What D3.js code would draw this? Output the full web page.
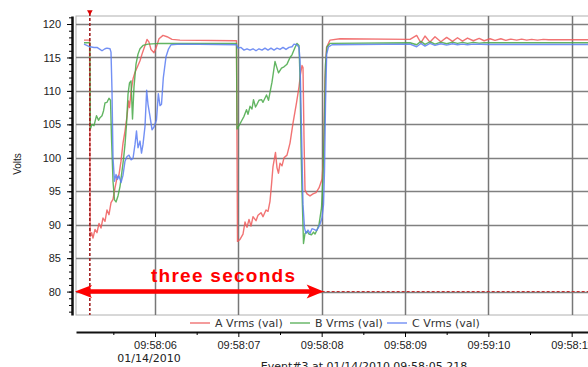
<!DOCTYPE html>
<html>
<head>
<meta charset="utf-8">
<script src="https://cdn.jsdelivr.net/npm/d3@7"></script>
<style>
	body { margin: 0; background: #fff; }
	svg { display: block; font-family: "DejaVu Sans", sans-serif; }
</style>
</head>
<body>
<div id="chart"></div>
<script>

var aTime = [5.148, 5.215, 5.222, 5.240, 5.256, 5.280, 5.304, 5.328, 5.352, 5.376, 5.400, 5.424, 5.448, 5.472, 5.496, 5.520, 5.544, 5.568, 5.592, 5.616, 5.640, 5.664, 5.682, 5.694, 5.712, 5.736, 5.760, 5.796, 5.820, 5.844, 5.880, 5.904, 5.928, 5.952, 5.988, 6.012, 6.048, 6.096, 6.144, 6.204, 6.300,
	6.978, 6.990, 7.020, 7.056, 7.080, 7.104, 7.128, 7.152, 7.176, 7.212, 7.236, 7.272, 7.296, 7.332, 7.356, 7.380, 7.398, 7.416, 7.446, 7.464, 7.482, 7.500, 7.524, 7.548, 7.584, 7.620, 7.656, 7.698, 7.728, 7.746, 7.764, 7.776, 7.788, 7.800, 7.824, 7.860, 7.896, 7.932, 7.968, 8.004, 8.022, 8.040, 8.058, 8.100, 8.220,
	9.060, 9.14, 9.19, 9.24, 9.30, 9.36, 9.43, 9.50, 9.57, 9.63, 9.69, 9.75, 9.82, 9.89, 9.95, 10.02, 10.08, 10.15, 10.21, 10.27, 10.34, 10.40, 10.46, 10.52, 10.59, 10.66, 10.72, 11.2];
var aVolts = [117.6, 117.6, 88.2, 88.8, 88.0, 89.3, 88.8, 90.2, 89.5, 91.0, 90.5, 92.2, 91.5, 93.3, 93.8, 95.5, 97.0, 97.5, 99.5, 102.2, 104.0, 106.2, 108.5, 107.5, 109.8, 111.8, 112.8, 113.8, 114.5, 115.5, 116.8, 117.7, 117.3, 116.2, 115.7, 116.4, 117.8, 118.3, 118.1, 117.7, 117.6,
	117.5, 87.5, 87.8, 88.6, 90.4, 89.6, 90.8, 89.8, 91.2, 90.6, 91.4, 91.8, 91.2, 92.2, 92.0, 93.5, 96.0, 98.7, 100.8, 98.5, 97.7, 99.2, 98.8, 100.0, 100.4, 102.2, 105.2, 108.2, 110.6, 112.5, 113.8, 113.5, 103.0, 95.2, 94.6, 94.3, 94.6, 94.8, 95.5, 96.8, 100.0, 112.0, 116.5, 117.6, 117.8,
	117.7, 118.3, 117.2, 118.2, 117.3, 118.1, 117.35, 118.0, 117.4, 117.95, 117.45, 117.9, 117.5, 117.85, 117.5, 117.8, 117.55, 117.8, 117.55, 117.75, 117.6, 117.75, 117.6, 117.7, 117.6, 117.7, 117.65, 117.65];

var bTime = [5.148, 5.218, 5.224, 5.244, 5.268, 5.298, 5.322, 5.340, 5.364, 5.382, 5.400, 5.424, 5.448, 5.466, 5.478, 5.496, 5.514, 5.532, 5.556, 5.580, 5.604, 5.622, 5.640, 5.658, 5.676, 5.694, 5.712, 5.730, 5.748, 5.772, 5.796, 5.820, 5.856, 5.916, 6.060,
	6.978, 6.984, 7.008, 7.038, 7.068, 7.098, 7.116, 7.140, 7.164, 7.182, 7.206, 7.224, 7.248, 7.278, 7.296, 7.338, 7.362, 7.380, 7.404, 7.440, 7.464, 7.482, 7.518, 7.548, 7.584, 7.620, 7.644, 7.680, 7.704, 7.728, 7.740, 7.752, 7.764, 7.782, 7.800, 7.824, 7.848, 7.878, 7.902, 7.920, 7.944, 7.968, 7.998, 8.016, 8.034, 8.046, 8.064, 8.100,
	9.060, 9.14, 9.19, 9.24, 9.30, 9.36, 9.43, 9.50, 9.57, 9.63, 9.69, 9.75, 9.82, 9.89, 9.95, 10.1, 11.2];
var bVolts = [117.2, 117.2, 104.3, 105.0, 104.8, 106.3, 105.6, 106.0, 106.3, 107.0, 108.2, 108.3, 108.9, 108.6, 103.0, 96.5, 93.7, 93.4, 94.3, 95.7, 98.0, 99.8, 102.0, 105.0, 109.5, 111.2, 111.5, 105.8, 110.6, 114.0, 115.5, 116.3, 116.8, 117.0, 117.1,
	117.1, 104.3, 104.8, 105.5, 106.2, 107.2, 106.5, 107.7, 107.3, 108.7, 107.6, 108.0, 108.6, 108.7, 108.3, 109.4, 108.6, 109.8, 111.3, 114.4, 113.4, 112.7, 113.4, 113.6, 114.0, 115.0, 115.4, 116.5, 117.1, 116.8, 112.0, 102.0, 95.0, 87.2, 88.7, 89.0, 88.6, 88.5, 88.9, 88.6, 89.2, 90.0, 92.5, 97.0, 106.0, 114.0, 116.6, 117.1,
	117.2, 116.9, 117.4, 116.95, 117.35, 117.0, 117.3, 117.05, 117.3, 117.1, 117.25, 117.1, 117.25, 117.15, 117.2, 117.2, 117.2];

var cTime = [5.148, 5.220, 5.268, 5.304, 5.340, 5.364, 5.400, 5.424, 5.460, 5.472, 5.484, 5.496, 5.514, 5.532, 5.550, 5.568, 5.592, 5.616, 5.640, 5.664, 5.688, 5.712, 5.736, 5.760, 5.778, 5.796, 5.820, 5.838, 5.856, 5.880, 5.900, 5.916, 5.940, 5.964, 5.988, 6.018, 6.040, 6.060, 6.078, 6.100, 6.132, 6.160, 6.192, 6.300,
	6.978, 6.996, 7.032, 7.068, 7.104, 7.140, 7.176, 7.212, 7.248, 7.284, 7.320, 7.356, 7.392, 7.428, 7.464, 7.500, 7.536, 7.572, 7.608, 7.644, 7.668, 7.704, 7.728, 7.740, 7.758, 7.776, 7.794, 7.812, 7.836, 7.860, 7.884, 7.908, 7.938, 7.962, 7.980, 8.004, 8.022, 8.034, 8.046, 8.060, 8.082, 8.124,
	9.060, 9.14, 9.19, 9.24, 9.30, 9.36, 9.43, 9.50, 9.57, 9.63, 9.69, 9.75, 9.82, 10.0, 11.2];
var cVolts = [117.0, 116.6, 116.5, 116.5, 116.2, 116.0, 116.3, 116.4, 116.3, 115.8, 110.0, 100.0, 96.5, 97.5, 96.8, 97.3, 96.3, 97.4, 99.5, 100.2, 100.4, 99.7, 99.9, 102.0, 104.0, 101.5, 102.5, 100.7, 102.0, 104.7, 110.1, 108.0, 106.2, 104.2, 104.6, 105.7, 109.6, 107.8, 108.0, 112.0, 115.1, 116.2, 116.9, 117.0,
	116.9, 116.4, 116.5, 116.1, 116.3, 116.1, 116.3, 116.0, 116.3, 116.1, 116.4, 116.1, 116.4, 116.1, 116.4, 116.2, 116.5, 116.2, 116.5, 116.6, 117.0, 116.9, 116.5, 114.6, 104.0, 93.0, 89.5, 88.7, 89.2, 88.7, 89.4, 89.3, 89.1, 89.6, 90.1, 91.0, 93.0, 98.0, 108.0, 115.5, 116.6, 116.9,
	117.0, 116.6, 117.1, 116.7, 117.1, 116.8, 117.05, 116.85, 117.05, 116.9, 117.0, 116.9, 117.0, 116.95, 116.95];

var seriesNames = ["A Vrms (val)", "B Vrms (val)", "C Vrms (val)"];
var seriesColors = ["#ee5a5a", "#47a847", "#5a7cf2"];

var yTicks = [80, 85, 90, 95, 100, 105, 110, 115, 120];
var xTicks = [6, 7, 8, 9, 10, 11];
var xTickLabels = ["09:58:06", "09:58:07", "09:58:08", "09:58:09", "09:59:10", "09:58:11"];
var dateLabel = "01/14/2010";
var eventLabel = "Event#3 at 01/14/2010 09:58:05.218";

var triggerTime = 5.218;
var windowEnd = 8.0;   // annotation: three seconds of sag, ends here
var limitVolts = 80;

var width = 588, height = 367;
var plot = {left: 76, right: 588, top: 16, bottom: 315};

var svg = d3.select("#chart").append("svg")
	.attr("width", width)
	.attr("height", height);

var x = d3.scaleLinear().domain([5.052, 11.196]).range([plot.left, plot.right]);
var y = d3.scaleLinear().domain([76.5, 121.2]).range([plot.bottom, plot.top]);

svg.append("defs").append("clipPath")
	.attr("id", "clip")
	.append("rect")
		.attr("x", plot.left)
		.attr("y", plot.top)
		.attr("width", plot.right - plot.left)
		.attr("height", plot.bottom - plot.top);

// plot frame
svg.append("rect")
	.attr("x", plot.left)
	.attr("y", plot.top)
	.attr("width", plot.right - plot.left + 2)
	.attr("height", plot.bottom - plot.top)
	.attr("fill", "none")
	.attr("stroke", "#b0b0b0")
	.attr("stroke-width", 1);

// grid
svg.append("g")
	.selectAll("line")
	.data(yTicks)
	.enter()
		.append("line")
			.attr("x1", plot.left)
			.attr("x2", plot.right)
			.attr("y1", function(d){ return Math.round(y(d)) + 0.5; })
			.attr("y2", function(d){ return Math.round(y(d)) + 0.5; })
			.attr("stroke", "#808080")
			.attr("stroke-width", 1.3);

svg.append("g")
	.selectAll("line")
	.data(xTicks)
	.enter()
		.append("line")
			.attr("x1", function(d){ return Math.round(x(d)) + 0.5; })
			.attr("x2", function(d){ return Math.round(x(d)) + 0.5; })
			.attr("y1", plot.top)
			.attr("y2", plot.bottom)
			.attr("stroke", "#777")
			.attr("stroke-width", 1.5);

// y axis, major then minor ticks
var yAxis = svg.append("g")
	.attr("transform", "translate(72,0)")
	.call(d3.axisLeft(y).tickValues(yTicks).tickSize(5).tickSizeOuter(0).tickPadding(6));

svg.append("g")
	.attr("transform", "translate(72,0)")
	.call(d3.axisLeft(y).tickValues(d3.range(77, 122, 1)).tickSize(3).tickSizeOuter(0).tickFormat(""))
	.select(".domain").remove();

yAxis.select(".domain").attr("stroke", "#111").attr("stroke-width", 2.5);
yAxis.selectAll("text").attr("font-size", 11).attr("fill", "#222");

svg.append("text")
	.attr("transform", "translate(21,164) rotate(-90)")
	.attr("text-anchor", "middle")
	.attr("font-family", "Liberation Sans, Arial, sans-serif")
	.attr("font-size", 10)
	.attr("fill", "#222")
	.text("Volts");

// x axis, sits below the legend strip
var xAxis = svg.append("g")
	.attr("transform", "translate(0,332)")
	.call(d3.axisBottom(x).tickValues(xTicks).tickSize(5).tickSizeOuter(0).tickPadding(4)
		.tickFormat(function(d, i){ return xTickLabels[i]; }));

svg.append("g")
	.attr("transform", "translate(0,332)")
	.call(d3.axisBottom(x).tickValues(xTicks.map(function(d){ return d - 0.5; })).tickSize(3).tickSizeOuter(0).tickFormat(""))
	.select(".domain").remove();

xAxis.select(".domain").attr("stroke", "#111").attr("stroke-width", 2);
xAxis.selectAll("text").attr("font-size", 11).attr("fill", "#222");

svg.append("text")
	.attr("x", x(6) - 6)
	.attr("y", 362)
	.attr("text-anchor", "middle")
	.attr("font-size", 11)
	.attr("fill", "#222")
	.text(dateLabel);

svg.append("text")
	.attr("x", 364)
	.attr("y", 370)
	.attr("text-anchor", "middle")
	.attr("font-size", 11)
	.attr("fill", "#222")
	.text(eventLabel);

// series
var series = [
	{time: aTime, volts: aVolts},
	{time: bTime, volts: bVolts},
	{time: cTime, volts: cVolts}
];

var line = d3.line()
	.x(function(d){ return x(d[0]); })
	.y(function(d){ return y(d[1]); });

svg.append("g")
	.attr("clip-path", "url(#clip)")
	.selectAll("path")
	.data(series)
	.enter()
		.append("path")
			.attr("d", function(s){ return line(d3.zip(s.time, s.volts)); })
			.attr("fill", "none")
			.attr("stroke", function(s, i){ return seriesColors[i]; })
			.attr("stroke-width", 1.4)
			.attr("stroke-opacity", 0.85)
			.attr("stroke-linejoin", "round");

// trigger marker
svg.append("line")
	.attr("x1", x(triggerTime))
	.attr("x2", x(triggerTime))
	.attr("y1", plot.top - 3)
	.attr("y2", plot.bottom)
	.attr("stroke", "#a02020")
	.attr("stroke-width", 1.6)
	.attr("stroke-dasharray", "3,2");

svg.append("path")
	.attr("d", d3.symbol().type(d3.symbolTriangle).size(14))
	.attr("transform", "translate(" + x(triggerTime) + ",12) rotate(180)")
	.attr("fill", "#d00");

// legend
var legend = svg.append("g")
	.selectAll("g")
	.data(seriesNames)
	.enter()
		.append("g")
			.attr("transform", function(d, i){ return "translate(" + [190, 290, 387][i] + ",323)"; });

legend.append("line")
	.attr("x1", 0)
	.attr("x2", 20)
	.attr("stroke", function(d, i){ return seriesColors[i]; })
	.attr("stroke-width", 1.5)
	.attr("stroke-opacity", 0.8);

legend.append("text")
	.attr("x", 25)
	.attr("y", 4)
	.attr("font-size", 11)
	.attr("fill", "#333")
	.text(function(d){ return d; });

// annotation: 80 V reference and the three second arrow
svg.append("line")
	.attr("x1", x(windowEnd))
	.attr("x2", plot.right)
	.attr("y1", y(limitVolts))
	.attr("y2", y(limitVolts))
	.attr("stroke", "#c02020")
	.attr("stroke-width", 1)
	.attr("stroke-dasharray", "3,2");

var ay = y(limitVolts);
var left = plot.left - 1, right = x(windowEnd) + 2;

svg.append("line")
	.attr("x1", left + 12)
	.attr("x2", right - 12)
	.attr("y1", ay)
	.attr("y2", ay)
	.attr("stroke", "#ff0000")
	.attr("stroke-width", 4.5);

svg.append("path")
	.attr("d", "M" + left + "," + ay + "L" + (left + 17) + "," + (ay - 6.5) + "L" + (left + 13) + "," + ay + "L" + (left + 17) + "," + (ay + 6.5) + "Z")
	.attr("fill", "#ff0000");

svg.append("path")
	.attr("d", "M" + right + "," + ay + "L" + (right - 17) + "," + (ay - 7) + "L" + (right - 13) + "," + ay + "L" + (right - 17) + "," + (ay + 7) + "Z")
	.attr("fill", "#ff0000");

svg.append("text")
	.attr("x", 151)
	.attr("y", 282)
	.attr("font-family", "Liberation Sans, Arial, sans-serif")
	.attr("font-weight", "bold")
	.attr("font-size", 19)
	.attr("textLength", 144)
	.attr("lengthAdjust", "spacing")
	.attr("fill", "#ff0000")
	.text("three seconds");
</script>
</body>
</html>
